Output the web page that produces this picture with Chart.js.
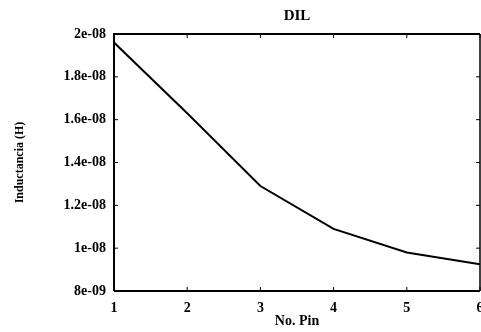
<!DOCTYPE html>
<html>
<head>
<meta charset="utf-8">
<script src="https://cdn.jsdelivr.net/npm/chart.js@4/dist/chart.umd.min.js"></script>
<style>
  html, body { margin: 0; padding: 0; background: #fff; }
  #wrap { width: 481px; height: 332px; }
</style>
</head>
<body>
<div id="wrap"><canvas id="c"></canvas></div>
<script>
// data
let pins = [1, 2, 3, 4, 5, 6]
let inductance = [1.96e-8, 1.63e-8, 1.29e-8, 1.09e-8, 9.8e-9, 9.25e-9]
let yTickValues = [8e-9, 1e-8, 1.2e-8, 1.4e-8, 1.6e-8, 1.8e-8, 2e-8]
let yTickLabels = ["8e-09", "1e-08", "1.2e-08", "1.4e-08", "1.6e-08", "1.8e-08", "2e-08"]

let serif = "'Liberation Serif', 'DejaVu Serif', serif"

// frame + small inward ticks, gnuplot style
let framePlugin = {
    id: "frame",
    afterDraw(chart) {
        let ctx = chart.ctx
        let a = chart.chartArea
        let xs = chart.scales.x
        let ys = chart.scales.y
        ctx.save()
        ctx.strokeStyle = "#000"
        ctx.lineWidth = 2
        ctx.beginPath()
        ctx.moveTo(a.left, a.bottom); ctx.lineTo(a.left, a.top); ctx.lineTo(a.right, a.top)
        ctx.moveTo(a.left, a.bottom); ctx.lineTo(a.right, a.bottom)
        ctx.stroke()
        ctx.lineWidth = 1.5
        ctx.beginPath()
        ctx.moveTo(a.right, a.top); ctx.lineTo(a.right, a.bottom)
        ctx.stroke()
        ctx.lineWidth = 1
        ctx.beginPath()
        xs.ticks.forEach(t => {
            let px = xs.getPixelForValue(t.value)
            ctx.moveTo(px, a.bottom); ctx.lineTo(px, a.bottom - 4)
            ctx.moveTo(px, a.top); ctx.lineTo(px, a.top + 4)
        })
        ys.ticks.forEach(t => {
            let py = ys.getPixelForValue(t.value)
            ctx.moveTo(a.left, py); ctx.lineTo(a.left + 4, py)
            ctx.moveTo(a.right, py); ctx.lineTo(a.right - 4, py)
        })
        ctx.stroke()
        ctx.restore()
    }
}

new Chart(document.getElementById("c"), {
    type: "line",
    data: {
        datasets: [{
            data: pins.map((p, i) => ({x: p, y: inductance[i]})),
            borderColor: "#000",
            borderWidth: 2,
            pointRadius: 0,
            tension: 0,
            fill: false
        }]
    },
    options: {
        responsive: true,
        maintainAspectRatio: false,
        animation: false,
        layout: {padding: {left: 0, right: 1, top: 0, bottom: 0}},
        plugins: {legend: {display: false}, tooltip: {enabled: false}},
        scales: {
            x: {
                type: "linear",
                min: 1, max: 6,
                grid: {display: false, drawTicks: false},
                border: {display: false},
                ticks: {
                    stepSize: 1, padding: 9, color: "#000",
                    font: {family: serif, size: 14, weight: "bold"}
                },
                title: {
                    display: true, text: "No. Pin", color: "#000", padding: {top: 0, bottom: 2},
                    font: {family: serif, size: 14, weight: "bold"}
                },
                afterFit: s => { s.height = 41; s.paddingLeft = 0; s.paddingRight = 0 }
            },
            xTop: {
                type: "linear",
                position: "top",
                min: 1, max: 6,
                grid: {display: false, drawTicks: false},
                border: {display: false},
                ticks: {display: false},
                title: {
                    display: true, text: "DIL", color: "#000", padding: {top: 7, bottom: 6},
                    font: {family: serif, size: 15, weight: "bold"}
                },
                afterFit: s => { s.height = 34; s.paddingLeft = 0; s.paddingRight = 0 }
            },
            y: {
                min: 8e-9, max: 2e-8,
                grid: {display: false, drawTicks: false},
                border: {display: false},
                afterBuildTicks: s => { s.ticks = yTickValues.map(v => ({value: v})) },
                ticks: {
                    padding: 8, color: "#000",
                    font: {family: serif, size: 14, weight: "bold"},
                    callback: (v, i) => yTickLabels[i]
                },
                title: {
                    display: true, text: "Inductancia (H)", color: "#000", padding: {top: 13, bottom: 0},
                    font: {family: serif, size: 12, weight: "bold"}
                },
                afterFit: s => { s.width = 114; s.paddingTop = 0; s.paddingBottom = 0 }
            }
        }
    },
    plugins: [framePlugin]
})
</script>
</body>
</html>
